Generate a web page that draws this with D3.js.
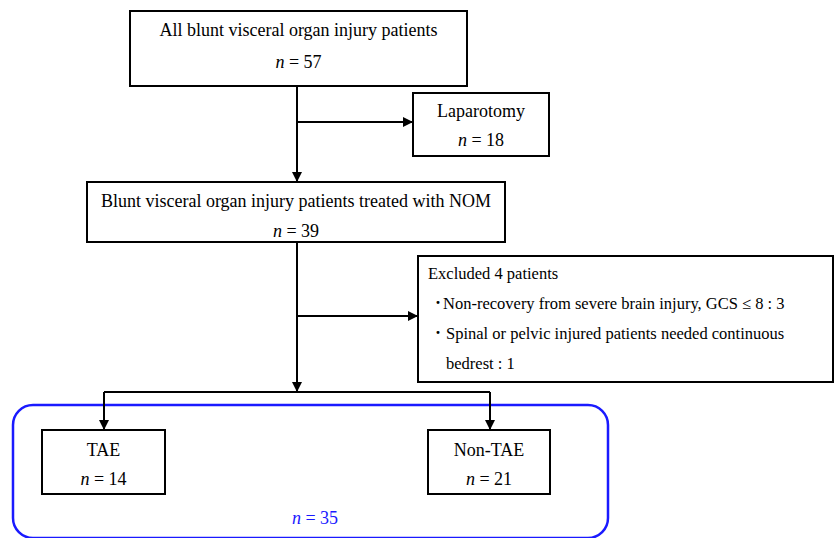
<!DOCTYPE html>
<html>
<head>
<meta charset="utf-8">
<script src="https://cdn.jsdelivr.net/npm/d3@7"></script>
<style>
  body { margin: 0; background: #fff; }
  text { font-family: "Liberation Serif", "Times New Roman", serif; fill: #000; }
</style>
</head>
<body>
<div id="chart"></div>
<script>
// Flow stages (titles + counts)
var stageNames = ["All blunt visceral organ injury patients", "Laparotomy",
  "Blunt visceral organ injury patients treated with NOM", "TAE", "Non-TAE"];
var stageCounts = [57, 18, 39, 14, 21];
var excludedLines = ["Excluded 4 patients",
  "Non-recovery from severe brain injury, GCS \u2264 8 : 3",
  "Spinal or pelvic injured patients needed continuous",
  "bedrest : 1"];
var excludedBullet = [false, true, true, false];
var groupTotal = 35;

var svgWidth = 834;
var svgHeight = 538;

var svg = d3.select("#chart")
  .append("svg")
  .attr("width", svgWidth)
  .attr("height", svgHeight);

// arrow head
svg.append("defs").append("marker")
  .attr("id", "arrow")
  .attr("viewBox", "0 0 10 10")
  .attr("refX", 10)
  .attr("refY", 5)
  .attr("markerWidth", 10)
  .attr("markerHeight", 10)
  .attr("markerUnits", "userSpaceOnUse")
  .attr("orient", "auto")
  .append("path")
  .attr("d", "M0,0 L10,5 L0,10 Z")
  .attr("fill", "#000");

// box layout (x, y, w, h) for each stage
var boxes = [
  {x: 130, y: 11, w: 337, h: 75, t1: 30, t2: 62},
  {x: 413, y: 93, w: 136, h: 63, t1: 111, t2: 140},
  {x: 87, y: 182, w: 418, h: 60, t1: 201, t2: 231},
  {x: 42, y: 430, w: 123, h: 64, t1: 450, t2: 479},
  {x: 428, y: 430, w: 122, h: 64, t1: 450, t2: 479}
];

// blue group outline
svg.append("rect")
  .attr("x", 13).attr("y", 405)
  .attr("width", 595).attr("height", 133)
  .attr("rx", 20).attr("ry", 20)
  .attr("fill", "none")
  .attr("stroke", "#1a1aff")
  .attr("stroke-width", 2.5);

svg.append("text")
  .attr("x", 315).attr("y", 518)
  .attr("text-anchor", "middle")
  .attr("dominant-baseline", "central")
  .style("font-size", "18px")
  .style("fill", "#1a1aff")
  .html("<tspan font-style='italic'>n</tspan> = " + groupTotal);

var g = svg.selectAll("g.stage")
  .data(stageNames)
  .enter()
  .append("g")
  .attr("class", "stage");

g.append("rect")
  .attr("x", (d, i) => boxes[i].x)
  .attr("y", (d, i) => boxes[i].y)
  .attr("width", (d, i) => boxes[i].w)
  .attr("height", (d, i) => boxes[i].h)
  .attr("fill", "#fff")
  .attr("stroke", "#000")
  .attr("stroke-width", 2);

g.append("text")
  .attr("x", (d, i) => boxes[i].x + boxes[i].w / 2)
  .attr("y", (d, i) => boxes[i].t1)
  .attr("text-anchor", "middle")
  .attr("dominant-baseline", "central")
  .style("font-size", "18px")
  .text(d => d);

g.append("text")
  .attr("x", (d, i) => boxes[i].x + boxes[i].w / 2)
  .attr("y", (d, i) => boxes[i].t2)
  .attr("text-anchor", "middle")
  .attr("dominant-baseline", "central")
  .style("font-size", "18px")
  .html((d, i) => "<tspan font-style='italic'>n</tspan> = " + stageCounts[i]);

// excluded box
var ex = {x: 418, y: 256, w: 415, h: 126};
svg.append("rect")
  .attr("x", ex.x).attr("y", ex.y)
  .attr("width", ex.w).attr("height", ex.h)
  .attr("fill", "#fff")
  .attr("stroke", "#000")
  .attr("stroke-width", 2);

var exX = [428, 443, 446, 446];
svg.selectAll("text.ex")
  .data(excludedLines)
  .enter()
  .append("text")
  .attr("class", "ex")
  .attr("x", (d, i) => exX[i])
  .attr("y", (d, i) => 273 + i * 30)
  .attr("dominant-baseline", "central")
  .style("font-size", "16.5px")
  .text(d => d);

svg.selectAll("text.bullet")
  .data(excludedBullet.map((b, i) => b ? i : -1).filter(i => i >= 0))
  .enter()
  .append("text")
  .attr("class", "bullet")
  .attr("x", 435)
  .attr("y", i => 273 + i * 30)
  .attr("dominant-baseline", "central")
  .style("font-size", "18px")
  .style("font-weight", "bold")
  .text("\u00B7");

// connectors
var mainX = 297;
var lines = [
  [[mainX, 86], [mainX, 182]],
  [[mainX, 122], [413, 122]],
  [[mainX, 242], [mainX, 392]],
  [[mainX, 316], [418, 316]],
  [[104, 392], [490, 392]],
  [[104, 392], [104, 430]],
  [[490, 392], [490, 430]]
];
var arrowed = [true, true, true, true, false, true, true];

svg.selectAll("path.link")
  .data(lines)
  .enter()
  .append("path")
  .attr("class", "link")
  .attr("d", d => d3.line()(d))
  .attr("fill", "none")
  .attr("stroke", "#000")
  .attr("stroke-width", 2)
  .attr("marker-end", (d, i) => arrowed[i] ? "url(#arrow)" : null);
</script>
</body>
</html>
